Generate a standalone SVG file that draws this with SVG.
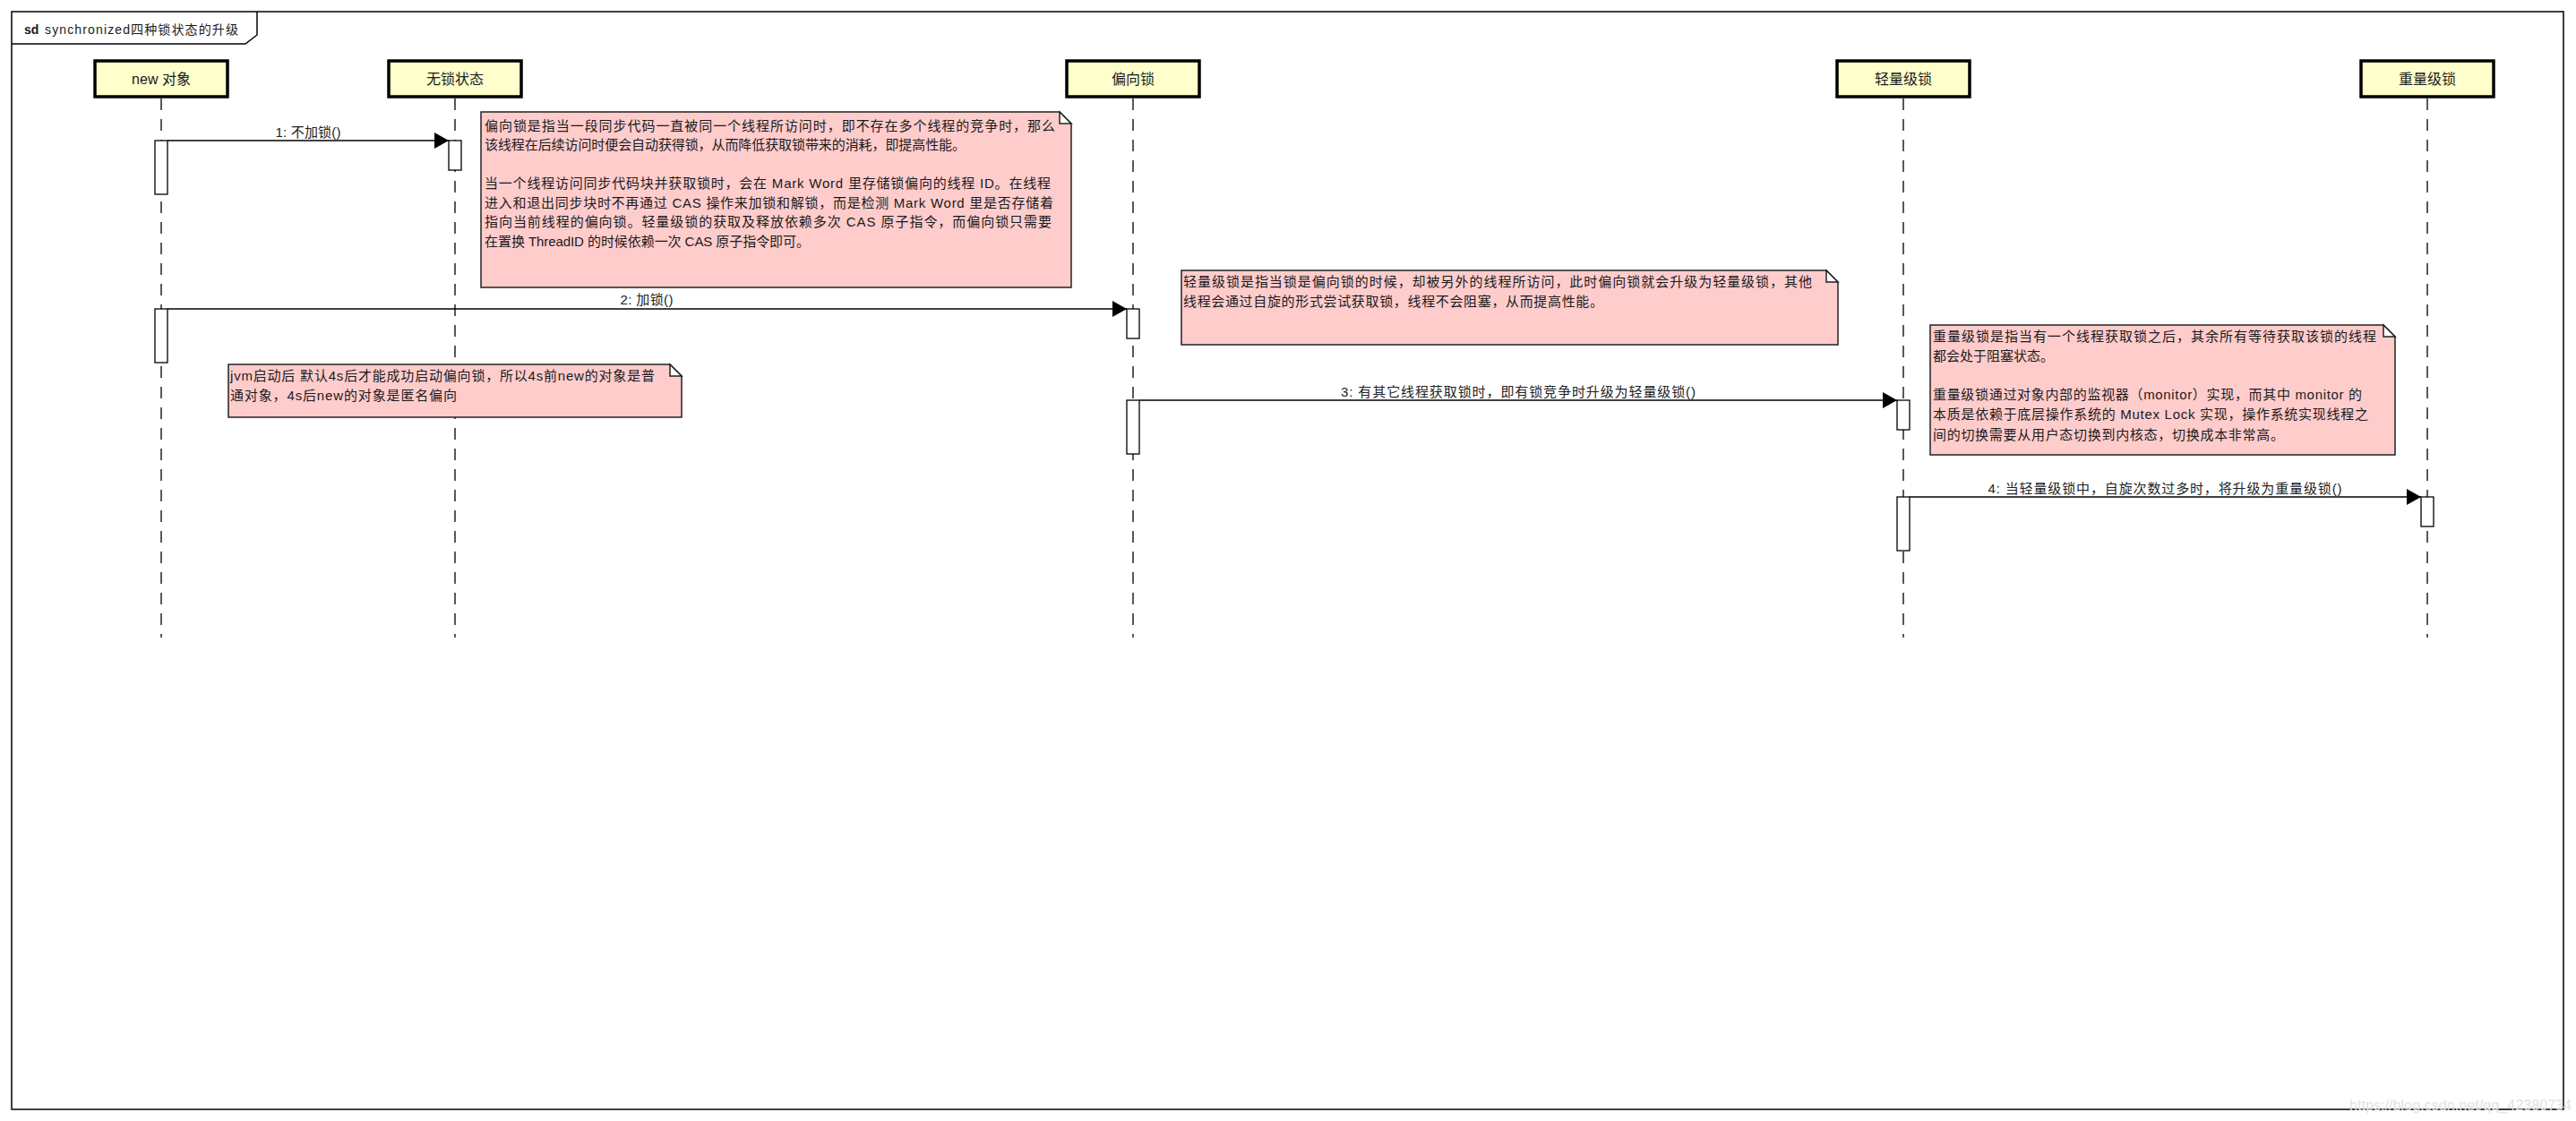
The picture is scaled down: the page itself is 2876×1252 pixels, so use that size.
<svg xmlns="http://www.w3.org/2000/svg" width="2876" height="1252" viewBox="0 0 2876 1252">
<defs>
<marker id="ah" viewBox="0 0 16 18" refX="16" refY="9" markerWidth="16" markerHeight="18" markerUnits="userSpaceOnUse" orient="auto"><path d="M0,0 L16,9 L0,18 Z" fill="#000"/></marker>
</defs>
<style>
.t{font-family:"Liberation Sans","Noto Sans CJK SC",sans-serif;fill:#1a1a1a}
.h{font-size:16px;text-anchor:middle}
.n{font-size:15px}
.m{font-size:15px;text-anchor:middle;fill:#222}
.head{fill:#FFFFCC;stroke:#000;stroke-width:3.5}
.life{stroke:#222;stroke-width:1.5;stroke-dasharray:13 10;fill:none}
.act{fill:#fff;stroke:#000;stroke-width:1.3}
.note{fill:#FFCCCC;stroke:#222;stroke-width:1.5}
.fold{fill:#fff;stroke:#222;stroke-width:1.5}
.msg{stroke:#000;stroke-width:1.5;fill:none;marker-end:url(#ah)}
</style>
<rect width="2876" height="1252" fill="#fff"/>
<g id="frame">
<rect x="13" y="13" width="2849" height="1226" fill="none" stroke="#000" stroke-width="1.5"/>
<path d="M13,49 H274 L287,39 V13" fill="none" stroke="#000" stroke-width="1.5"/>
<text class="t" x="27" y="38" font-size="14" font-weight="bold">sd</text>
<text class="t" x="50" y="38" font-size="14" textLength="216">synchronized四种锁状态的升级</text>
</g>
<g id="lifelines">
<line class="life" x1="180" y1="110" x2="180" y2="712"/>
<line class="life" x1="508" y1="110" x2="508" y2="712"/>
<line class="life" x1="1265" y1="110" x2="1265" y2="712"/>
<line class="life" x1="2125" y1="110" x2="2125" y2="712"/>
<line class="life" x1="2710" y1="110" x2="2710" y2="712"/>
</g>
<g id="node-new">
<rect class="head" x="106" y="68" width="148" height="40"/>
<text class="t h" x="180" y="94">new 对象</text>
<rect class="act" x="173" y="157" width="14" height="60"/>
<rect class="act" x="173" y="345" width="14" height="60"/>
</g>
<g id="node-nolock">
<rect class="head" x="434" y="68" width="148" height="40"/>
<text class="t h" x="508" y="94">无锁状态</text>
<rect class="act" x="501" y="157" width="14" height="33"/>
</g>
<g id="node-biased">
<rect class="head" x="1191" y="68" width="148" height="40"/>
<text class="t h" x="1265" y="94">偏向锁</text>
<rect class="act" x="1258" y="345" width="14" height="33"/>
<rect class="act" x="1258" y="447" width="14" height="60"/>
</g>
<g id="node-light">
<rect class="head" x="2051" y="68" width="148" height="40"/>
<text class="t h" x="2125" y="94">轻量级锁</text>
<rect class="act" x="2118" y="447" width="14" height="33"/>
<rect class="act" x="2118" y="555" width="14" height="60"/>
</g>
<g id="node-heavy">
<rect class="head" x="2636" y="68" width="148" height="40"/>
<text class="t h" x="2710" y="94">重量级锁</text>
<rect class="act" x="2703" y="555" width="14" height="33"/>
</g>
<g id="note-biased">
<path class="note" d="M537,125 H1183 L1196,138 V321 H537 Z"/>
<path class="fold" d="M1183,125 V138 H1196 Z"/>
<text class="t n" x="541" y="146" textLength="637">偏向锁是指当一段同步代码一直被同一个线程所访问时，即不存在多个线程的竞争时，那么</text>
<text class="t n" x="541" y="167" textLength="537">该线程在后续访问时便会自动获得锁，从而降低获取锁带来的消耗，即提高性能。</text>
<text class="t n" x="541" y="210" textLength="632">当一个线程访问同步代码块并获取锁时，会在 Mark Word 里存储锁偏向的线程 ID。在线程</text>
<text class="t n" x="541" y="232" textLength="635">进入和退出同步块时不再通过 CAS 操作来加锁和解锁，而是检测 Mark Word 里是否存储着</text>
<text class="t n" x="541" y="253" textLength="633">指向当前线程的偏向锁。轻量级锁的获取及释放依赖多次 CAS 原子指令，而偏向锁只需要</text>
<text class="t n" x="541" y="275" textLength="363">在置换 ThreadID 的时候依赖一次 CAS 原子指令即可。</text>
</g>
<g id="note-light">
<path class="note" d="M1319,302 H2039 L2052,315 V385 H1319 Z"/>
<path class="fold" d="M2039,302 V315 H2052 Z"/>
<text class="t n" x="1321" y="320" textLength="702">轻量级锁是指当锁是偏向锁的时候，却被另外的线程所访问，此时偏向锁就会升级为轻量级锁，其他</text>
<text class="t n" x="1321" y="342" textLength="469">线程会通过自旋的形式尝试获取锁，线程不会阻塞，从而提高性能。</text>
</g>
<g id="note-heavy">
<path class="note" d="M2155,363 H2661 L2674,376 V508 H2155 Z"/>
<path class="fold" d="M2661,363 V376 H2674 Z"/>
<text class="t n" x="2158" y="381" textLength="495">重量级锁是指当有一个线程获取锁之后，其余所有等待获取该锁的线程</text>
<text class="t n" x="2158" y="403" textLength="135">都会处于阻塞状态。</text>
<text class="t n" x="2158" y="446" textLength="479">重量级锁通过对象内部的监视器（monitor）实现，而其中 monitor 的</text>
<text class="t n" x="2158" y="468" textLength="486">本质是依赖于底层操作系统的 Mutex Lock 实现，操作系统实现线程之</text>
<text class="t n" x="2158" y="491" textLength="392">间的切换需要从用户态切换到内核态，切换成本非常高。</text>
</g>
<g id="note-jvm">
<path class="note" d="M255,407 H748 L761,420 V466 H255 Z"/>
<path class="fold" d="M748,407 V420 H761 Z"/>
<text class="t n" x="257" y="425" textLength="474">jvm启动后 默认4s后才能成功启动偏向锁，所以4s前new的对象是普</text>
<text class="t n" x="257" y="447" textLength="253">通对象，4s后new的对象是匿名偏向</text>
</g>
<g id="connectors">
<line class="msg" x1="187" y1="157" x2="501" y2="157"/>
<text class="t m" x="344" y="153" textLength="73">1: 不加锁()</text>
<line class="msg" x1="187" y1="345" x2="1258" y2="345"/>
<text class="t m" x="722" y="340" textLength="59">2: 加锁()</text>
<line class="msg" x1="1272" y1="447" x2="2118" y2="447"/>
<text class="t m" x="1695" y="443" textLength="396">3: 有其它线程获取锁时，即有锁竞争时升级为轻量级锁()</text>
<line class="msg" x1="2132" y1="555" x2="2703" y2="555"/>
<text class="t m" x="2417" y="551" textLength="395">4: 当轻量级锁中，自旋次数过多时，将升级为重量级锁()</text>
</g>
<text class="t" x="2623" y="1240" font-size="16" fill="#e2e2e2" style="fill:#e2e2e2" textLength="248">https://blog.csdn.net/qq_42380734</text>
</svg>
